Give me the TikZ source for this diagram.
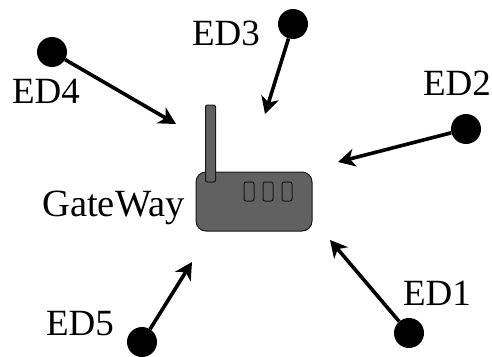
\documentclass[tikz,border=0pt]{standalone}
\usepackage{fontspec}
\setmainfont{Liberation Serif}
\usetikzlibrary{arrows.meta}
\tikzset{
  enddev/.style={circle,fill=black,draw=none,minimum size=30pt,inner sep=0pt},
  lbl/.style={inner sep=0pt,text=black,font=\fontsize{37}{37}\selectfont,anchor=base},
  gwlbl/.style={inner sep=0pt,text=black,font=\fontsize{38.5}{38.5}\selectfont,anchor=base},
  link/.style={line width=3.6pt,-{Stealth[length=17pt,width=18pt,inset=5pt]}},
  part/.style={draw=black!90,fill=black!62,line width=1pt,rounded corners=#1},
  part/.default=3pt
}
\begin{document}
\begin{tikzpicture}[x=1pt,y=-1pt]
\useasboundingbox (0,0) rectangle (492,356);
% gateway
\node[part=10pt,minimum width=116pt,minimum height=59pt,inner sep=0pt] (body) at (254,201.5) {};
\node[part=2pt,minimum width=10pt,minimum height=77pt,inner sep=0pt] (antenna) at (210.5,143.5) {};
\node[part=2pt,minimum width=10pt,minimum height=19pt,inner sep=0pt] (ledA) at (249,191.5) {};
\node[part=2pt,minimum width=10pt,minimum height=19pt,inner sep=0pt] (ledB) at (268,191.5) {};
\node[part=2pt,minimum width=10pt,minimum height=19pt,inner sep=0pt] (ledC) at (287,191.5) {};
% end devices
\node[enddev] (d1) at (409,333) {};
\node[enddev] (d2) at (466,129) {};
\node[enddev] (d3) at (293,24) {};
\node[enddev] (d4) at (52,52) {};
\node[enddev] (d5) at (142,342) {};
% arrow targets
\coordinate (t1) at (330,240);
\coordinate (t2) at (338,162);
\coordinate (t3) at (265,114);
\coordinate (t4) at (176,124);
\coordinate (t5) at (192,262);
\draw[link] (d1) -- (t1);
\draw[link] (d2) -- (t2);
\draw[link] (d3) -- (t3);
\draw[link] (d4) -- (t4);
\draw[link] (d5) -- (t5);
% labels
\node[lbl] (l1) at (437,305) {ED1};
\node[lbl] (l2) at (457,95) {ED2};
\node[lbl] (l3) at (226,45) {ED3};
\node[lbl] (l4) at (46,103) {ED4};
\node[lbl] (l5) at (80,335) {ED5};
\node[gwlbl] (gw) at (113.5,216) {GateWay};
\end{tikzpicture}
\end{document}
